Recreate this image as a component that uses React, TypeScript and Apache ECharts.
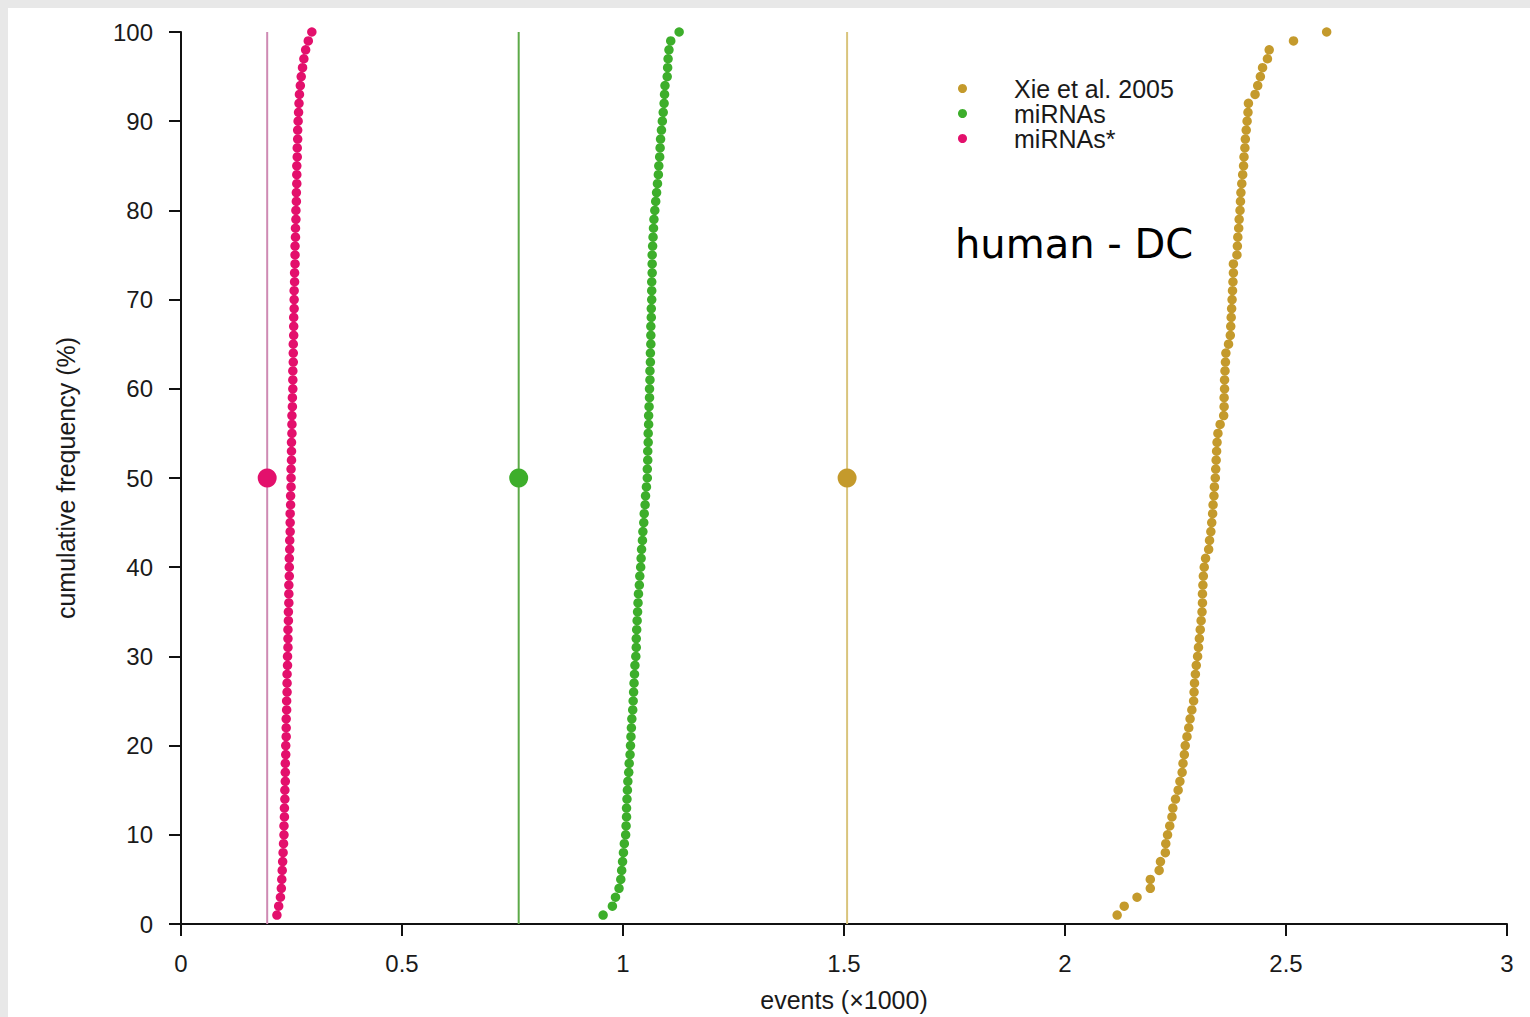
import React, { useEffect, useRef } from "react";
import * as echarts from "echarts";

// cumulative frequency (%) for each ranked point
const cumulativePercent = [
  1, 2, 3, 4, 5, 6, 7, 8, 9, 10, 11, 12, 13, 14, 15, 16, 17, 18, 19, 20,
  21, 22, 23, 24, 25, 26, 27, 28, 29, 30, 31, 32, 33, 34, 35, 36, 37, 38, 39, 40,
  41, 42, 43, 44, 45, 46, 47, 48, 49, 50, 51, 52, 53, 54, 55, 56, 57, 58, 59, 60,
  61, 62, 63, 64, 65, 66, 67, 68, 69, 70, 71, 72, 73, 74, 75, 76, 77, 78, 79, 80,
  81, 82, 83, 84, 85, 86, 87, 88, 89, 90, 91, 92, 93, 94, 95, 96, 97, 98, 99, 100,
];

// events (x1000), Xie et al. 2005
const xieEvents = [
  2.118, 2.134, 2.163, 2.193, 2.193, 2.213, 2.216, 2.227, 2.228, 2.232,
  2.237, 2.242, 2.244, 2.25, 2.256, 2.26, 2.265, 2.267, 2.27, 2.272,
  2.276, 2.28, 2.283, 2.287, 2.291, 2.292, 2.293, 2.295, 2.297, 2.3,
  2.302, 2.304, 2.306, 2.308, 2.31, 2.311, 2.311, 2.312, 2.313, 2.315,
  2.318, 2.325, 2.327, 2.33, 2.332, 2.334, 2.335, 2.337, 2.338, 2.34,
  2.341, 2.342, 2.343, 2.344, 2.346, 2.351, 2.359, 2.36, 2.36, 2.361,
  2.361, 2.362, 2.363, 2.364, 2.37, 2.374, 2.375, 2.376, 2.377, 2.378,
  2.379, 2.38, 2.381, 2.381, 2.389, 2.39, 2.391, 2.393, 2.394, 2.396,
  2.397, 2.398, 2.4, 2.402, 2.404, 2.405, 2.407, 2.408, 2.41, 2.412,
  2.414, 2.415, 2.43, 2.436, 2.442, 2.447, 2.458, 2.462, 2.517, 2.592,
];

// events (x1000), miRNAs
const mirnaEvents = [
  0.955, 0.976, 0.983, 0.991, 0.995, 0.997, 0.999, 1.001, 1.003, 1.006,
  1.007, 1.008, 1.008, 1.009, 1.01, 1.011, 1.013, 1.014, 1.016, 1.017,
  1.018, 1.019, 1.02, 1.022, 1.023, 1.024, 1.025, 1.026, 1.027, 1.029,
  1.03, 1.03, 1.031, 1.032, 1.033, 1.034, 1.035, 1.037, 1.038, 1.04,
  1.041, 1.042, 1.044, 1.045, 1.047, 1.048, 1.05, 1.051, 1.053, 1.055,
  1.055, 1.056, 1.056, 1.057, 1.057, 1.058, 1.058, 1.059, 1.06, 1.06,
  1.061, 1.061, 1.062, 1.062, 1.063, 1.063, 1.063, 1.064, 1.064, 1.065,
  1.065, 1.065, 1.066, 1.066, 1.066, 1.067, 1.068, 1.069, 1.07, 1.072,
  1.074, 1.076, 1.078, 1.08, 1.081, 1.083, 1.084, 1.085, 1.087, 1.089,
  1.091, 1.093, 1.094, 1.095, 1.1, 1.101, 1.102, 1.104, 1.108, 1.127,
];

// events (x1000), miRNAs*
const mirnaStarEvents = [
  0.217, 0.221, 0.225, 0.227, 0.228, 0.229, 0.23, 0.231, 0.232, 0.233,
  0.233, 0.234, 0.234, 0.235, 0.235, 0.236, 0.236, 0.236, 0.237, 0.237,
  0.238, 0.238, 0.238, 0.239, 0.239, 0.24, 0.24, 0.24, 0.241, 0.241,
  0.242, 0.242, 0.242, 0.243, 0.243, 0.244, 0.244, 0.244, 0.245, 0.245,
  0.245, 0.246, 0.246, 0.247, 0.247, 0.247, 0.248, 0.248, 0.249, 0.249,
  0.249, 0.25, 0.25, 0.25, 0.251, 0.251, 0.251, 0.252, 0.252, 0.253,
  0.253, 0.253, 0.254, 0.254, 0.254, 0.255, 0.255, 0.255, 0.256, 0.256,
  0.256, 0.257, 0.257, 0.258, 0.258, 0.258, 0.259, 0.259, 0.26, 0.26,
  0.261, 0.261, 0.262, 0.262, 0.262, 0.263, 0.263, 0.264, 0.264, 0.265,
  0.266, 0.267, 0.268, 0.27, 0.272, 0.275, 0.278, 0.282, 0.288, 0.296,
];

const seriesNames = ["Xie et al. 2005", "miRNAs", "miRNAs*"];
const medianEvents = [1.507, 0.764, 0.195];
const medianPercent = 50;
const medianLineSpan = [0, 100];
const xTickLabels = ["0", "0.5", "1", "1.5", "2", "2.5", "3"];

const dotColors = ["#C49A2C", "#3DAE2B", "#E3106C"];
const lineColors = ["#D9C47C", "#5DAA48", "#CE8AB3"];

const FONT = '"Liberation Sans", Arial, Helvetica, sans-serif';

export default function App() {
  const ref = useRef<HTMLDivElement>(null);

  useEffect(() => {
    if (!ref.current) return;
    const chart = echarts.init(ref.current, undefined, { renderer: "svg" });
    const allEvents = [xieEvents, mirnaEvents, mirnaStarEvents];

    const medianLines = seriesNames.map((name, k) => ({
      name: name + " median",
      type: "line",
      silent: true,
      showSymbol: false,
      symbol: "none",
      lineStyle: { color: lineColors[k], width: 2 },
      data: medianLineSpan.map((p) => [medianEvents[k], p]),
      z: 2,
    }));

    const scatters = seriesNames.map((name, k) => ({
      name,
      type: "scatter",
      symbol: "circle",
      symbolSize: 9.5,
      itemStyle: { color: dotColors[k], opacity: 1 },
      data: allEvents[k].map((v, i) => [v, cumulativePercent[i]]),
      z: 3,
      markPoint: {
        silent: true,
        symbol: "circle",
        symbolSize: 19,
        itemStyle: { color: dotColors[k] },
        label: { show: false },
        data: [{ coord: [medianEvents[k], medianPercent] }],
        z: 4,
      },
    }));

    chart.setOption({
      animation: false,
      backgroundColor: "#ffffff",
      textStyle: { fontFamily: FONT },
      grid: { left: 173, top: 24, width: 1326, height: 896, containLabel: false },
      legend: {
        data: seriesNames,
        orient: "vertical",
        left: 950,
        top: 68,
        padding: 0,
        itemGap: 0,
        icon: "circle",
        itemWidth: 9,
        itemHeight: 9,
        selectedMode: false,
        textStyle: {
          fontFamily: FONT,
          fontSize: 25,
          lineHeight: 20,
          color: "#1a1a1a",
          padding: [0, 0, 0, 42],
        },
      },
      xAxis: {
        type: "value",
        min: 0,
        max: 3,
        interval: 0.5,
        name: "events (\u00d71000)",
        nameLocation: "middle",
        nameGap: 63,
        nameTextStyle: { fontFamily: FONT, fontSize: 25, color: "#1a1a1a" },
        axisLine: { show: true, onZero: false, lineStyle: { color: "#111", width: 2 } },
        axisTick: { show: true, length: 12, lineStyle: { color: "#111", width: 2 } },
        axisLabel: {
          margin: 27,
          fontFamily: FONT,
          fontSize: 24,
          color: "#1a1a1a",
          formatter: (v: number) => xTickLabels[Math.round(v / 0.5)] ?? String(v),
        },
        splitLine: { show: false },
      },
      yAxis: {
        type: "value",
        min: 0,
        max: 100,
        interval: 10,
        name: "cumulative frequency (%)",
        nameLocation: "middle",
        nameGap: 103,
        nameTextStyle: { fontFamily: FONT, fontSize: 25, color: "#1a1a1a" },
        axisLine: { show: true, onZero: false, lineStyle: { color: "#111", width: 2 } },
        axisTick: { show: true, length: 12, lineStyle: { color: "#111", width: 2 } },
        axisLabel: { margin: 28, fontFamily: FONT, fontSize: 24, color: "#1a1a1a" },
        splitLine: { show: false },
      },
      graphic: [
        {
          type: "text",
          left: 947,
          top: 216,
          style: {
            text: "human - DC",
            font: '40px "DejaVu Sans", Verdana, sans-serif',
            fill: "#000000",
          },
        },
      ],
      series: [...medianLines, ...scatters],
    });

    return () => chart.dispose();
  }, []);

  return (
    <div style={{ position: "fixed", inset: 0, background: "#e8e8e8" }}>
      <div
        ref={ref}
        style={{
          position: "absolute",
          left: 8,
          top: 8,
          width: 1522,
          height: 1009,
          background: "#ffffff",
        }}
      />
    </div>
  );
}
